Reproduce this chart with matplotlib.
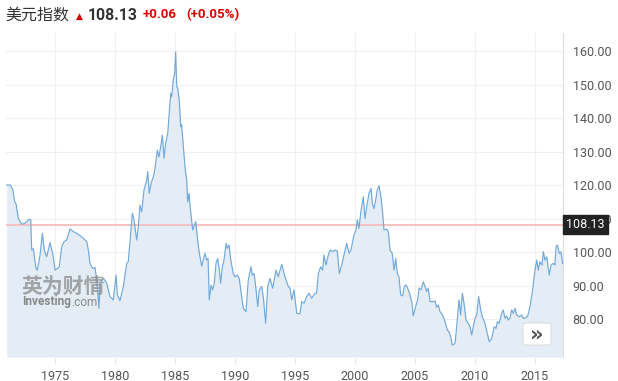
import matplotlib
matplotlib.use("Agg")
import matplotlib.pyplot as plt
import matplotlib.transforms as mtransforms
from matplotlib.patches import FancyBboxPatch

plt.rcParams['font.family'] = ['Roboto', 'Noto Sans CJK SC', 'DejaVu Sans']

years = [1971.00, 1971.28, 1971.50, 1971.67, 1971.78, 1971.97, 1972.25, 1972.53, 1972.88, 1973.00,
         1973.08, 1973.22, 1973.44, 1973.55, 1973.78, 1973.97, 1974.13, 1974.33, 1974.61, 1974.83,
         1975.03, 1975.22, 1975.38, 1975.58, 1975.78, 1976.00, 1976.28, 1976.55, 1976.83, 1977.11,
         1977.38, 1977.67, 1977.80, 1977.94, 1978.17, 1978.36, 1978.50, 1978.69, 1978.78, 1979.05,
         1979.33, 1979.61, 1979.88, 1980.11, 1980.22, 1980.44, 1980.72, 1981.00, 1981.13, 1981.28,
         1981.47, 1981.61, 1981.83, 1981.97, 1982.11, 1982.25, 1982.44, 1982.67, 1982.75, 1982.88,
         1983.03, 1983.22, 1983.36, 1983.55, 1983.69, 1983.83, 1983.97, 1984.11, 1984.25, 1984.42,
         1984.53, 1984.67, 1984.75, 1984.88, 1985.00, 1985.08, 1985.17, 1985.25, 1985.38, 1985.50,
         1985.58, 1985.72, 1985.88, 1986.00, 1986.08, 1986.19, 1986.33, 1986.50, 1986.61, 1986.75,
         1986.88, 1987.05, 1987.25, 1987.38, 1987.52, 1987.67, 1987.78, 1987.88, 1988.03, 1988.17,
         1988.30, 1988.44, 1988.58, 1988.72, 1988.83, 1988.97, 1989.11, 1989.28, 1989.38, 1989.53,
         1989.67, 1989.88, 1990.03, 1990.22, 1990.38, 1990.58, 1990.72, 1990.94, 1991.13, 1991.36,
         1991.47, 1991.61, 1991.75, 1991.92, 1992.05, 1992.25, 1992.38, 1992.58, 1992.75, 1992.94,
         1993.17, 1993.44, 1993.63, 1993.92, 1994.19, 1994.47, 1994.61, 1994.75, 1994.94, 1995.17,
         1995.44, 1995.58, 1995.78, 1996.00, 1996.19, 1996.42, 1996.69, 1996.83, 1996.97, 1997.17,
         1997.33, 1997.44, 1997.61, 1997.80, 1997.94, 1998.17, 1998.36, 1998.55, 1998.72, 1998.92,
         1999.11, 1999.33, 1999.53, 1999.69, 1999.94, 2000.11, 2000.22, 2000.36, 2000.53, 2000.72,
         2000.86, 2001.00, 2001.19, 2001.36, 2001.47, 2001.61, 2001.75, 2001.88, 2002.03, 2002.19,
         2002.33, 2002.44, 2002.67, 2002.80, 2002.94, 2003.13, 2003.28, 2003.42, 2003.55, 2003.69,
         2003.83, 2004.00, 2004.13, 2004.28, 2004.47, 2004.61, 2004.78, 2004.88, 2005.08, 2005.25,
         2005.36, 2005.53, 2005.72, 2005.86, 2006.00, 2006.13, 2006.28, 2006.55, 2006.69, 2006.83,
         2006.97, 2007.11, 2007.33, 2007.53, 2007.72, 2007.86, 2008.00, 2008.13, 2008.36, 2008.50,
         2008.69, 2008.83, 2008.97, 2009.11, 2009.28, 2009.47, 2009.61, 2009.75, 2009.88, 2010.03,
         2010.17, 2010.33, 2010.50, 2010.63, 2010.86, 2011.05, 2011.22, 2011.42, 2011.63, 2011.78,
         2011.89, 2012.05, 2012.25, 2012.38, 2012.53, 2012.67, 2012.80, 2012.94, 2013.08, 2013.22,
         2013.36, 2013.50, 2013.72, 2013.92, 2014.05, 2014.28, 2014.42, 2014.61, 2014.83, 2015.03,
         2015.17, 2015.30, 2015.44, 2015.61, 2015.72, 2015.86, 2016.00, 2016.22, 2016.36, 2016.55,
         2016.69, 2016.78, 2016.89, 2017.05, 2017.19, 2017.33]

values = [120.0, 120.0, 118.7, 115.0, 114.3, 110.0, 108.3, 108.6, 109.8, 109.6,
          100.6, 101.0, 95.1, 94.6, 99.1, 105.6, 100.6, 98.6, 102.8, 99.6,
          94.6, 95.1, 95.6, 101.6, 103.1, 103.6, 106.9, 106.1, 105.6, 104.9,
          104.1, 103.1, 100.6, 96.6, 95.1, 95.4, 91.6, 83.2, 90.7, 92.2,
          90.7, 86.7, 85.7, 93.1, 87.2, 85.5, 89.7, 96.6, 97.1, 103.6,
          111.6, 109.6, 103.6, 107.6, 114.0, 112.0, 118.5, 121.5, 124.0, 117.5,
          120.5, 122.5, 125.0, 130.4, 128.4, 131.4, 134.9, 128.0, 132.5, 135.4,
          140.9, 147.4, 146.4, 151.3, 153.3, 159.8, 149.4, 148.9, 145.4, 137.4,
          138.0, 131.4, 124.5, 121.5, 115.0, 117.5, 112.0, 106.6, 107.6, 109.1,
          104.6, 99.6, 95.8, 97.6, 99.6, 97.6, 98.1, 85.7, 90.1, 88.7,
          90.7, 96.6, 98.1, 94.6, 90.7, 95.6, 97.6, 102.6, 101.1, 102.1,
          97.6, 93.6, 92.6, 93.1, 92.1, 86.7, 83.2, 82.2, 91.6, 95.6,
          93.1, 93.6, 89.7, 83.7, 88.7, 89.7, 86.7, 78.7, 89.7, 92.1,
          89.2, 94.6, 92.6, 96.3, 92.6, 89.7, 89.2, 85.7, 88.7, 81.7,
          81.5, 85.2, 84.7, 86.7, 87.7, 86.2, 87.7, 87.7, 93.6, 95.6,
          94.6, 99.1, 96.1, 99.1, 100.6, 100.1, 100.6, 100.3, 93.6, 96.1,
          99.1, 102.6, 99.6, 100.6, 105.1, 106.6, 109.6, 107.1, 112.5, 116.5,
          110.0, 113.5, 117.5, 119.0, 114.5, 113.0, 115.5, 118.5, 119.8, 116.5,
          111.6, 106.6, 106.8, 106.1, 100.6, 99.6, 94.6, 98.1, 93.6, 92.6,
          87.2, 86.9, 89.7, 90.2, 88.7, 87.2, 84.7, 80.9, 83.7, 85.7,
          89.2, 88.7, 91.1, 89.7, 88.2, 89.2, 85.2, 85.2, 85.4, 83.5,
          84.2, 82.2, 81.2, 79.2, 76.7, 76.2, 74.7, 72.2, 72.7, 77.7,
          85.7, 81.2, 87.7, 84.7, 79.7, 78.7, 77.7, 75.2, 77.7, 80.2,
          81.2, 86.7, 82.7, 80.7, 78.7, 75.7, 73.2, 74.2, 77.7, 77.2,
          79.2, 78.7, 81.7, 82.7, 80.2, 80.9, 79.7, 80.2, 82.7, 81.7,
          83.2, 81.2, 80.7, 81.2, 80.2, 80.4, 80.9, 83.7, 88.7, 94.6,
          97.6, 94.6, 97.1, 96.1, 100.1, 97.6, 98.6, 93.1, 96.1, 96.6,
          96.1, 101.6, 102.1, 99.6, 100.1, 96.6]

last_price = 108.13
y_ticks = [80, 90, 100, 110, 120, 130, 140, 150, 160]
x_ticks = [1975, 1980, 1985, 1990, 1995, 2000, 2005, 2010, 2015]

fig = plt.figure(figsize=(6.18, 3.81), dpi=100)
ax = fig.add_axes([6/618, 1 - 357/381, (563 - 6)/618, (357 - 33)/381])

ax.set_xlim(1970.94, 2017.36)
ax.set_ylim(68.66, 165.4)

ax.fill_between(years, values, 68.66, color='#e4edf5', zorder=1, linewidth=0)
ax.plot(years, values, color='#72a9db', linewidth=0.85, zorder=3)
ax.axhline(last_price, color='#f6b9b9', linewidth=1.2, zorder=2)

ax.set_xticks(x_ticks)
ax.set_xticklabels([str(t) for t in x_ticks])
ax.set_yticks(y_ticks)
ax.set_yticklabels([f"{t:.2f}" for t in y_ticks])
ax.yaxis.tick_right()
ax.tick_params(axis='y', length=0, pad=7, labelsize=9, labelcolor='#555555')
ax.tick_params(axis='x', length=5, width=0.8, color='#e8e8e8', pad=4, labelsize=9, labelcolor='#555555')
ax.grid(True, color='#f0f0f0', linewidth=0.8, zorder=0)
ax.set_axisbelow(True)

for s in ['top', 'left', 'bottom']:
    ax.spines[s].set_visible(False)
ax.spines['right'].set_color('#dddddd')
ax.spines['right'].set_linewidth(0.8)

# last price label (partly covers the 110.00 tick label, as in the original)
trans = mtransforms.blended_transform_factory(ax.transAxes, ax.transData)
ax.text(1.0 + 3/557, last_price, '108.13', transform=trans, ha='left', va='center',
        color='white', fontsize=9, zorder=10, clip_on=False,
        bbox=dict(boxstyle='square,pad=0.25', facecolor='#222222', edgecolor='#222222'))

# watermark
fig.text(21/618, 1 - 286/381, '英为财情', fontsize=15, fontweight='bold', color='#8a8a8a',
         alpha=0.75, family=['Noto Sans CJK SC'], va='center', ha='left')
t_inv = fig.text(22/618, 1 - 302/381, 'Investing', fontsize=8.5, fontweight='bold', color='#707070',
                 alpha=0.8, va='center', ha='left')
fig.text(0, 0, '.com', fontsize=8.5, color='#707070', alpha=0.8, va='center', ha='left')
fig.texts[-1].remove()
ax.annotate('.com', xy=(1, 0.5), xycoords=t_inv, xytext=(0.5, 0), textcoords='offset points',
            fontsize=8.5, color='#707070', alpha=0.8, va='center', ha='left')

# nav button
btn = FancyBboxPatch((523/618, 1 - 345/381), 28/618, 22/381,
                     boxstyle='round,pad=0,rounding_size=0.006', transform=fig.transFigure,
                     facecolor='white', edgecolor='#dddddd', linewidth=0.8, zorder=20)
fig.add_artist(btn)
fig.text(537/618, 1 - 334/381, '»', fontsize=15, fontweight='bold', color='#555555',
         ha='center', va='center', zorder=21, family=['DejaVu Sans'])

# title
fig.text(5/618, 1 - 15/381, '美元指数', fontsize=11.5, color='#333333',
         family=['Noto Sans CJK SC'], va='center', ha='left')
fig.text(79/618, 1 - 16/381, '▲', fontsize=6.5, color='#e00000',
         family=['DejaVu Sans'], va='center', ha='center')
fig.text(88/618, 1 - 15/381, '108.13', fontsize=11.3, fontweight='bold', color='#333333',
         va='center', ha='left')
fig.text(143/618, 1 - 15/381, '+0.06', fontsize=9.5, fontweight='bold', color='#e00000',
         va='center', ha='left')
fig.text(186/618, 1 - 15/381, '(+0.05%)', fontsize=9.5, fontweight='bold', color='#e00000',
         va='center', ha='left')

fig.savefig('out.png', dpi=100)
